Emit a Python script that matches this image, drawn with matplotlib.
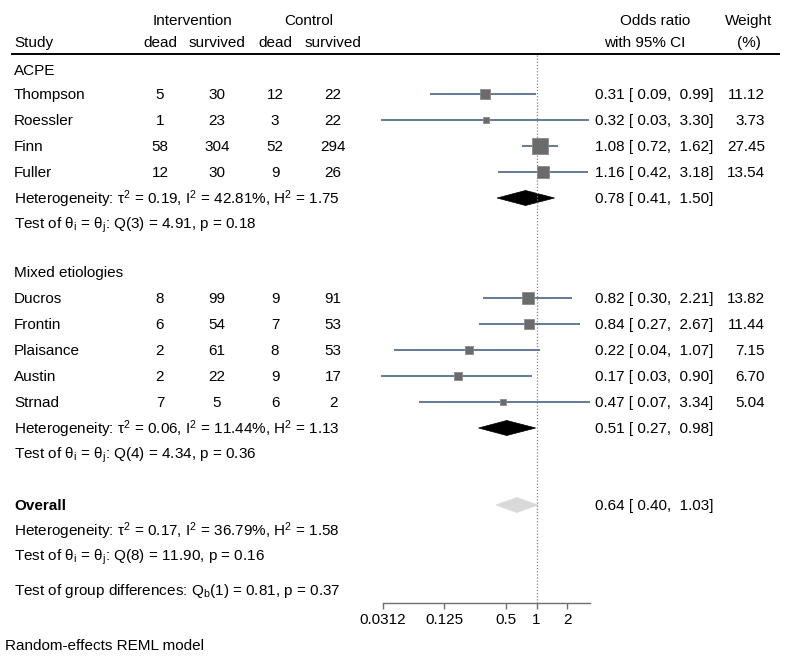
import matplotlib
matplotlib.use("Agg")
import matplotlib.pyplot as plt
from matplotlib.patches import Polygon
import numpy as np

plt.rcParams['font.family'] = ['Liberation Sans', 'DejaVu Sans']
plt.rcParams['mathtext.fontset'] = 'custom'
plt.rcParams['mathtext.rm'] = 'Liberation Sans'
plt.rcParams['mathtext.it'] = 'Liberation Sans:italic'
plt.rcParams['mathtext.bf'] = 'Liberation Sans:bold'

# ---------------- data ----------------
groups = ["ACPE", "Mixed etiologies"]
studies_acpe = ["Thompson", "Roessler", "Finn", "Fuller"]
studies_mixed = ["Ducros", "Frontin", "Plaisance", "Austin", "Strnad"]

int_dead_acpe = [5, 1, 58, 12]
int_surv_acpe = [30, 23, 304, 30]
ctl_dead_acpe = [12, 3, 52, 9]
ctl_surv_acpe = [22, 22, 294, 26]
or_acpe = [0.31, 0.32, 1.08, 1.16]
lo_acpe = [0.09, 0.03, 0.72, 0.42]
hi_acpe = [0.99, 3.30, 1.62, 3.18]
w_acpe = [11.12, 3.73, 27.45, 13.54]

int_dead_mixed = [8, 6, 2, 2, 7]
int_surv_mixed = [99, 54, 61, 22, 5]
ctl_dead_mixed = [9, 7, 8, 9, 6]
ctl_surv_mixed = [91, 53, 53, 17, 2]
or_mixed = [0.82, 0.84, 0.22, 0.17, 0.47]
lo_mixed = [0.30, 0.27, 0.04, 0.03, 0.07]
hi_mixed = [2.21, 2.67, 1.07, 0.90, 3.34]
w_mixed = [13.82, 11.44, 7.15, 6.70, 5.04]

sub_or = [0.78, 0.51]
sub_lo = [0.41, 0.27]
sub_hi = [1.50, 0.98]
het_text = ["Heterogeneity: τ$^2$ = 0.19, I$^2$ = 42.81%, H$^2$ = 1.75",
            "Heterogeneity: τ$^2$ = 0.06, I$^2$ = 11.44%, H$^2$ = 1.13"]
test_text = ["Test of θ$_\\mathrm{i}$ = θ$_\\mathrm{j}$: Q(3) = 4.91, p = 0.18",
             "Test of θ$_\\mathrm{i}$ = θ$_\\mathrm{j}$: Q(4) = 4.34, p = 0.36"]

overall_or, overall_lo, overall_hi = 0.64, 0.40, 1.03
overall_het = "Heterogeneity: τ$^2$ = 0.17, I$^2$ = 36.79%, H$^2$ = 1.58"
overall_test = "Test of θ$_\\mathrm{i}$ = θ$_\\mathrm{j}$: Q(8) = 11.90, p = 0.16"
group_test = "Test of group differences: Q$_\\mathrm{b}$(1) = 0.81, p = 0.37"
note = "Random-effects REML model"

xticks = [0.03125, 0.125, 0.5, 1, 2]
xtick_labels = ["0.0312", "0.125", "0.5", "1", "2"]

# ---------------- layout (pixels) ----------------
W, H = 790, 658
FS = 11
DY = 1.0
fig = plt.figure(figsize=(W / 100, H / 100), dpi=100)
axt = fig.add_axes([0, 0, 1, 1])
axt.set_xlim(0, W)
axt.set_ylim(H, 0)
axt.axis("off")

x_left, x_right = 383, 590
axf = fig.add_axes([x_left / W, 0, (x_right - x_left) / W, 1])
axf.set_xscale("log", base=2)
axf.set_xlim(2 ** -5, 3.34)
axf.set_ylim(H, 0)
axf.patch.set_visible(False)
for s in ["left", "right", "top"]:
    axf.spines[s].set_visible(False)
axf.spines["bottom"].set_position(("data", 603))
axf.spines["bottom"].set_color("#707070")
axf.spines["bottom"].set_linewidth(1.0)
axf.set_yticks([])
axf.set_xticks(xticks)
axf.set_xticklabels(xtick_labels, fontsize=FS)
axf.minorticks_off()
axf.tick_params(axis="x", direction="out", length=4, width=1.0, color="#707070", pad=3.5)

c_study = 14
c_cols = [160, 217, 275, 333]
c_or = 595
c_w = 765


def txt(x, y, s, ha="left", weight="normal"):
    axt.text(x, y + DY, s, ha=ha, va="center", fontsize=FS, weight=weight)


# header
txt(193, 20, "Intervention", ha="center")
txt(309, 20, "Control", ha="center")
txt(c_study, 42, "Study")
for cx, lab in zip(c_cols, ["dead", "survived", "dead", "survived"]):
    txt(cx, 42, lab, ha="center")
txt(655, 20, "Odds ratio", ha="center")
txt(645, 42, "with 95% CI", ha="center")
txt(749, 20, "Weight", ha="center")
txt(749, 42, "(%)", ha="center")
axt.plot([12, 779], [54, 54], color="black", lw=1.4)

# null line
axf.plot([1, 1], [55, 603], color="#808080", lw=0.9, ls=(0, (1, 1.5)), clip_on=False)

ci_col = "#56718e"
sq_col = "#6b6b6b"


def fmt(o, l, h):
    return f"{o:.2f} [ {l:.2f},  {h:.2f}]"


def study_row(y, name, counts, o, l, h, w):
    txt(c_study, y, name)
    for cx, v in zip(c_cols, counts):
        txt(cx, y, str(v), ha="center")
    axf.plot([l, h], [y, y], color=ci_col, lw=1.3, clip_on=False, solid_capstyle="butt")
    side = 3.1 * np.sqrt(w)
    axf.plot([o], [y], marker="s", ms=side * 0.72, color=sq_col,
             mec="#8a8a8a", mew=0.6, clip_on=False)
    txt(c_or, y, fmt(o, l, h))
    txt(c_w, y, f"{w:.2f}", ha="right")


def diamond(y, o, l, h, color):
    hh = 7.5
    axf.add_patch(Polygon([[l, y], [o, y - hh], [h, y], [o, y + hh]],
                          closed=True, facecolor=color, edgecolor=color, lw=0.5,
                          clip_on=False))


group_rows = [
    dict(y_head=70, y_st=[94, 120, 146, 172], y_sub=198, y_test=224),
    dict(y_head=272, y_st=[298, 324, 350, 376, 402], y_sub=428, y_test=454),
]
group_data = [
    (studies_acpe, int_dead_acpe, int_surv_acpe, ctl_dead_acpe, ctl_surv_acpe,
     or_acpe, lo_acpe, hi_acpe, w_acpe),
    (studies_mixed, int_dead_mixed, int_surv_mixed, ctl_dead_mixed, ctl_surv_mixed,
     or_mixed, lo_mixed, hi_mixed, w_mixed),
]

for gi, (lay, dat) in enumerate(zip(group_rows, group_data)):
    names, a, b, c, d, o, l, h, w = dat
    txt(c_study, lay["y_head"], groups[gi])
    for k, y in enumerate(lay["y_st"]):
        study_row(y, names[k], [a[k], b[k], c[k], d[k]], o[k], l[k], h[k], w[k])
    txt(c_study, lay["y_sub"], het_text[gi])
    diamond(lay["y_sub"], sub_or[gi], sub_lo[gi], sub_hi[gi], "black")
    txt(c_or, lay["y_sub"], fmt(sub_or[gi], sub_lo[gi], sub_hi[gi]))
    txt(c_study, lay["y_test"], test_text[gi])

# overall
txt(c_study, 505, "Overall", weight="bold")
diamond(505, overall_or, overall_lo, overall_hi, "#d9d9d9")
txt(c_or, 505, fmt(overall_or, overall_lo, overall_hi))
txt(c_study, 530, overall_het)
txt(c_study, 556, overall_test)
txt(c_study, 590, group_test)
txt(5, 645, note)

fig.savefig("out.png", dpi=100)
